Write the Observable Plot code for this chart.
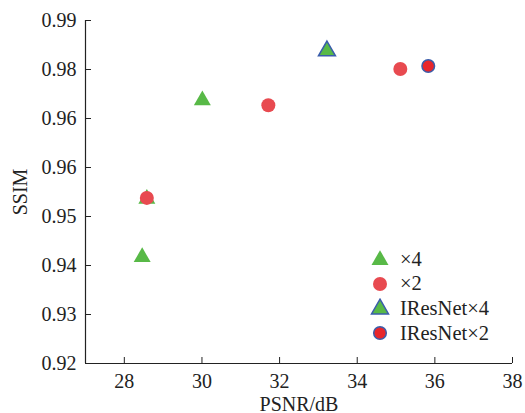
<!DOCTYPE html>
<html>
<head>
<meta charset="utf-8">
<script src="https://cdn.jsdelivr.net/npm/d3@7"></script>
<script src="https://cdn.jsdelivr.net/npm/@observablehq/plot@0.6"></script>
<style>
  html, body { margin: 0; padding: 0; background: #fff; }
  #wrap { position: relative; width: 525px; height: 413px; }
  #legend { position: absolute; left: 370px; top: 247px; font-family: "Liberation Serif", serif; font-size: 20.5px; color: #222; }
  #legend .row { display: flex; align-items: center; height: 24.6px; }
  #legend svg { width: 20px; height: 20px; margin-right: 10px; }
</style>
</head>
<body>
<div id="wrap"><div id="legend"></div></div>
<script>
// ---- data ----
const series = ["×4", "×2", "IResNet×4", "IResNet×2"];
const x4_psnr = [28.46, 28.58, 30.01];
const x4_ssim = [0.9417, 0.9536, 0.9737];
const x2_psnr = [28.58, 31.71, 35.11];
const x2_ssim = [0.9538, 0.9727, 0.9801];
const ir4_psnr = [33.22];
const ir4_ssim = [0.9838];
const ir2_psnr = [35.83];
const ir2_ssim = [0.9807];
const xTicks = [28, 30, 32, 34, 36, 38];
const yTicks = [0.92, 0.93, 0.94, 0.95, 0.96, 0.97, 0.98, 0.99];
const yTickLabels = ["0.92", "0.93", "0.94", "0.95", "0.96", "0.96", "0.98", "0.99"];
const xDomain = [27, 38];
const yDomain = [0.92, 0.99];

// ---- styles ----
const green = "#58b947";
const red = "#e84a50";
const red2 = "#e8262b";
const blue = "#3a5dab";

const toRows = (xs, ys, s) => xs.map((x, i) => ({psnr: x, ssim: ys[i], series: s}));
const d4 = toRows(x4_psnr, x4_ssim, series[0]);
const d2 = toRows(x2_psnr, x2_ssim, series[1]);
const dI4 = toRows(ir4_psnr, ir4_ssim, series[2]);
const dI2 = toRows(ir2_psnr, ir2_ssim, series[3]);

const chart = Plot.plot({
  width: 525,
  height: 413,
  marginLeft: 85,
  marginRight: 13,
  marginTop: 20,
  marginBottom: 50,
  style: {fontFamily: "'Liberation Serif', serif", fontSize: "20px", color: "#222", background: "#fff"},
  x: {domain: xDomain},
  y: {domain: yDomain},
  marks: [
    Plot.axisX({ticks: xTicks, tickSize: -6, tickPadding: 16, tickFormat: d => String(d),
      label: "PSNR/dB", labelAnchor: "center", labelArrow: "none", labelOffset: 47, stroke: "#222"}),
    Plot.axisY({ticks: yTicks, tickSize: -6, tickPadding: 15,
      tickFormat: d => yTickLabels[yTicks.findIndex(t => Math.abs(t - d) < 1e-9)],
      label: "SSIM", labelAnchor: "center", labelArrow: "none", labelOffset: 73, stroke: "#222"}),
    Plot.ruleX([xDomain[0]], {stroke: "#222", strokeWidth: 1.2}),
    Plot.ruleY([yDomain[0]], {stroke: "#222", strokeWidth: 1.2}),
    Plot.dot(d4, {x: "psnr", y: "ssim", symbol: "triangle", r: 6.3, fill: green, stroke: "none"}),
    Plot.dot(d2, {x: "psnr", y: "ssim", symbol: "circle", r: 7, fill: red, stroke: "none"}),
    Plot.dot(dI4, {x: "psnr", y: "ssim", symbol: "triangle", r: 6.3, fill: green, stroke: blue, strokeWidth: 1.5}),
    Plot.dot(dI2, {x: "psnr", y: "ssim", symbol: "circle", r: 6.3, fill: red2, stroke: blue, strokeWidth: 1.5})
  ]
});
document.getElementById("wrap").prepend(chart);

// ---- legend ----
const legendStyles = [
  {shape: "tri", fill: green, stroke: "none"},
  {shape: "circ", fill: red, stroke: "none"},
  {shape: "tri", fill: green, stroke: blue},
  {shape: "circ", fill: red2, stroke: blue}
];
const leg = document.getElementById("legend");
series.forEach((s, i) => {
  const st = legendStyles[i];
  const row = document.createElement("div");
  row.className = "row";
  const sw = st.stroke === "none" ? 0 : 1.5;
  const shape = st.shape === "tri"
    ? `<path d="${d3.symbol(d3.symbolTriangle, Math.PI * 6.3 * 6.3)()}" transform="translate(10,11)" fill="${st.fill}" stroke="${st.stroke}" stroke-width="${sw}"/>`
    : `<circle cx="10" cy="10" r="${st.stroke === "none" ? 7 : 6.3}" fill="${st.fill}" stroke="${st.stroke}" stroke-width="${sw}"/>`;
  row.innerHTML = `<svg viewBox="0 0 20 20">${shape}</svg><span>${s}</span>`;
  leg.appendChild(row);
});
</script>
</body>
</html>
